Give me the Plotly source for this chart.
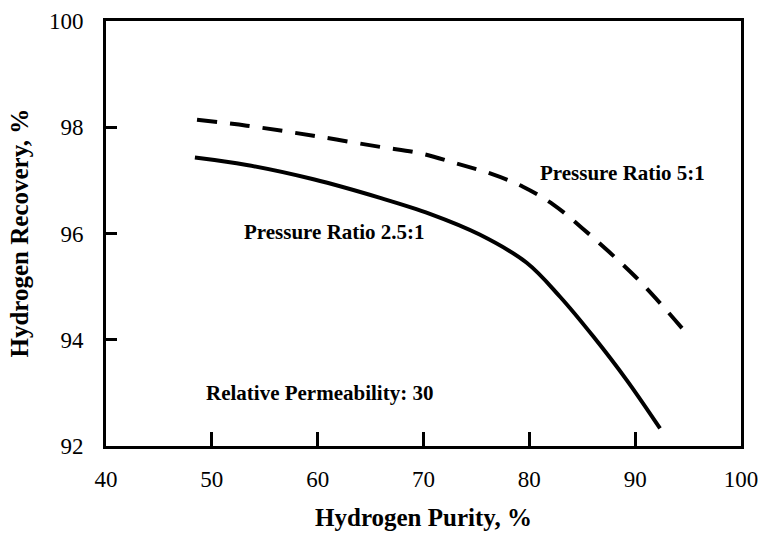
import plotly.graph_objects as go

# Pressure ratio 2.5:1 (solid)
purity_25 = [48.4, 53.3, 59.6, 65.9, 70.6, 75.3, 79.75, 82.9, 86.05, 89.2, 92.35]
recovery_25 = [97.43, 97.29, 97.02, 96.67, 96.37, 95.98, 95.45, 94.81, 94.06, 93.24, 92.33]

# Pressure ratio 5:1 (dashed)
purity_5 = [48.6, 53.3, 59.6, 65.9, 69.7, 73.1, 76.3, 79.4, 82.3, 85.0, 87.5, 90.0, 92.35, 94.5]
recovery_5 = [98.14, 98.03, 97.84, 97.63, 97.51, 97.32, 97.13, 96.88, 96.54, 96.10, 95.66, 95.19, 94.69, 94.20]

x_ticks = [40, 50, 60, 70, 80, 90, 100]
y_ticks = [92, 94, 96, 98, 100]

FONT = "Liberation Serif, Times New Roman, serif"

fig = go.Figure()
fig.add_trace(go.Scatter(x=purity_25, y=recovery_25, mode="lines",
                         line=dict(color="black", width=4, shape="spline"),
                         showlegend=False))
fig.add_trace(go.Scatter(x=purity_5, y=recovery_5, mode="lines",
                         line=dict(color="black", width=4, shape="spline", dash="20px,13px"),
                         showlegend=False))

ann_font = dict(family=FONT, size=21, color="black")
fig.add_annotation(x=80.8, y=97.14, text="<b>Pressure Ratio 5:1</b>", showarrow=False,
                   xanchor="left", yanchor="middle", font=ann_font)
fig.add_annotation(x=52.85, y=96.03, text="<b>Pressure Ratio 2.5:1</b>", showarrow=False,
                   xanchor="left", yanchor="middle", font=ann_font)
fig.add_annotation(x=49.25, y=93.0, text="<b>Relative Permeability: 30</b>", showarrow=False,
                   xanchor="left", yanchor="middle", font=ann_font)

# y-axis title
fig.add_annotation(xref="paper", yref="paper", x=-0.137, y=0.5, textangle=-90,
                   text="<b>Hydrogen Recovery, %</b>", showarrow=False,
                   xanchor="center", yanchor="middle",
                   font=dict(family=FONT, size=25, color="black"))

axis_common = dict(showline=True, linecolor="black", linewidth=3, mirror=True,
                   ticks="inside", tickwidth=3, tickcolor="black",
                   showgrid=False, zeroline=False, automargin=False,
                   tickfont=dict(family=FONT, size=23, color="black"))

fig.update_xaxes(range=[40, 100], tickvals=x_ticks, ticklen=14, ticklabelstandoff=10,
                 title=dict(text="<b>Hydrogen Purity, %</b>",
                            font=dict(family=FONT, size=25, color="black"), standoff=18),
                 **axis_common)
fig.update_yaxes(range=[92, 100], tickvals=y_ticks, ticklen=11, ticklabelstandoff=15,
                 **axis_common)

fig.update_layout(width=761, height=533, margin=dict(l=106, r=20, t=21, b=87),
                  plot_bgcolor="white", paper_bgcolor="white")

fig.write_html("out.html")
